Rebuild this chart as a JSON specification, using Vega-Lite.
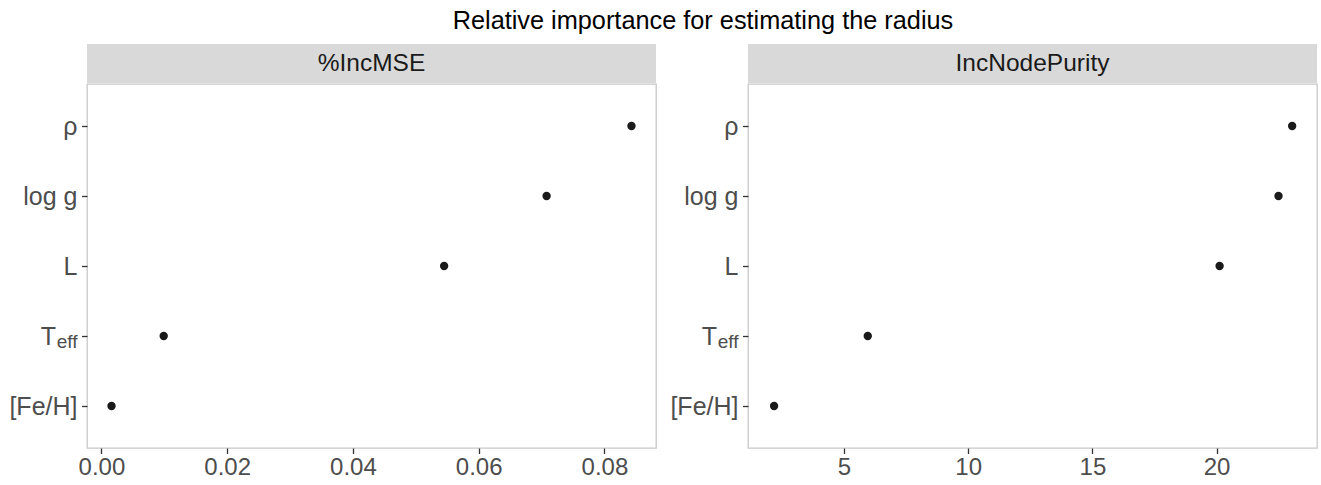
{
  "$schema": "https://vega.github.io/schema/vega-lite/v6.json",
  "padding": {"left": 8, "top": 8, "right": 0, "bottom": 0},
  "background": "white",
  "config": {
    "font": "Liberation Sans",
    "view": {"stroke": "#c8c8c8", "strokeWidth": 1.3},
    "axis": {"grid": false, "domain": false, "title": null, "labelFont": "Liberation Sans", "labelColor": "#4d4d4d", "tickColor": "#333333", "tickSize": 5.5, "tickWidth": 1.3}
  },
  "title": {"text": "Relative importance for estimating the radius", "fontSize": 25.3, "fontWeight": "normal", "color": "#000000", "font": "Liberation Sans", "anchor": "middle", "dx": 40, "offset": 10},
  "datasets": {
    "importance": [
      {"variable": "ρ", "measure": "%IncMSE", "value": 0.0843},
      {"variable": "log g", "measure": "%IncMSE", "value": 0.0708},
      {"variable": "L", "measure": "%IncMSE", "value": 0.0545},
      {"variable": "Teff", "measure": "%IncMSE", "value": 0.0099},
      {"variable": "[Fe/H]", "measure": "%IncMSE", "value": 0.0016},
      {"variable": "ρ", "measure": "IncNodePurity", "value": 23.04},
      {"variable": "log g", "measure": "IncNodePurity", "value": 22.49},
      {"variable": "L", "measure": "IncNodePurity", "value": 20.12},
      {"variable": "Teff", "measure": "IncNodePurity", "value": 5.96},
      {"variable": "[Fe/H]", "measure": "IncNodePurity", "value": 2.19}
    ]
  },
  "spacing": 12,
  "hconcat": [
    {
      "spacing": 0,
      "vconcat": [
        {
          "data": {"values": [{"strip": "%IncMSE"}]},
          "width": 569,
          "height": 39,
          "view": {"fill": "#d9d9d9", "stroke": null},
          "mark": {"type": "text", "fontSize": 24.5, "color": "#1a1a1a", "font": "Liberation Sans"},
          "encoding": {"text": {"field": "strip", "type": "nominal"}}
        },
        {
          "data": {"name": "importance"},
          "transform": [{"filter": "datum.measure === '%IncMSE'"}],
          "width": 569,
          "height": 364,
          "resolve": {"axis": {"y": "independent"}},
          "layer": [
            {
              "mark": {"type": "point", "filled": true, "size": 70, "color": "#1a1a1a", "opacity": 1},
              "encoding": {
                "x": {"field": "value", "type": "quantitative", "scale": {"domain": [-0.0023, 0.0882], "nice": false, "zero": false},
                  "axis": {"values": [0, 0.02, 0.04, 0.06, 0.08], "format": ".2f", "labelFontSize": 24, "labelPadding": 2}},
                "y": {"field": "variable", "type": "nominal", "sort": ["ρ", "log g", "L", "Teff", "[Fe/H]"], "scale": {"type": "point", "padding": 0.6},
                  "axis": {"orient": "left", "labelFontSize": 25, "labelExpr": "datum.value === 'Teff' ? 'T' : datum.label", "labelPadding": {"condition": {"test": "datum.value === 'Teff'", "value": 26}, "value": 4.5}}}
              }
            },
            {
              "mark": {"type": "point", "filled": true, "size": 70, "opacity": 0},
              "encoding": {
                "x": {"field": "value", "type": "quantitative"},
                "y": {"field": "variable", "type": "nominal", "sort": ["ρ", "log g", "L", "Teff", "[Fe/H]"],
                  "axis": {"orient": "left", "labelFontSize": 19, "ticks": false, "labelExpr": "datum.value === 'Teff' ? 'eff' : ''", "labelPadding": 10, "labelOffset": 5}}
              }
            }
          ]
        }
      ]
    },
    {
      "spacing": 0,
      "vconcat": [
        {
          "data": {"values": [{"strip": "IncNodePurity"}]},
          "width": 569,
          "height": 39,
          "view": {"fill": "#d9d9d9", "stroke": null},
          "mark": {"type": "text", "fontSize": 24.5, "color": "#1a1a1a", "font": "Liberation Sans"},
          "encoding": {"text": {"field": "strip", "type": "nominal"}}
        },
        {
          "data": {"name": "importance"},
          "transform": [{"filter": "datum.measure === 'IncNodePurity'"}],
          "width": 569,
          "height": 364,
          "resolve": {"axis": {"y": "independent"}},
          "layer": [
            {
              "mark": {"type": "point", "filled": true, "size": 70, "color": "#1a1a1a", "opacity": 1},
              "encoding": {
                "x": {"field": "value", "type": "quantitative", "scale": {"domain": [1.14, 24.04], "nice": false, "zero": false},
                  "axis": {"values": [5, 10, 15, 20], "labelFontSize": 24, "labelPadding": 2}},
                "y": {"field": "variable", "type": "nominal", "sort": ["ρ", "log g", "L", "Teff", "[Fe/H]"], "scale": {"type": "point", "padding": 0.6},
                  "axis": {"orient": "left", "labelFontSize": 25, "labelExpr": "datum.value === 'Teff' ? 'T' : datum.label", "labelPadding": {"condition": {"test": "datum.value === 'Teff'", "value": 26}, "value": 4.5}}}
              }
            },
            {
              "mark": {"type": "point", "filled": true, "size": 70, "opacity": 0},
              "encoding": {
                "x": {"field": "value", "type": "quantitative"},
                "y": {"field": "variable", "type": "nominal", "sort": ["ρ", "log g", "L", "Teff", "[Fe/H]"],
                  "axis": {"orient": "left", "labelFontSize": 19, "ticks": false, "labelExpr": "datum.value === 'Teff' ? 'eff' : ''", "labelPadding": 10, "labelOffset": 5}}
              }
            }
          ]
        }
      ]
    }
  ]
}
